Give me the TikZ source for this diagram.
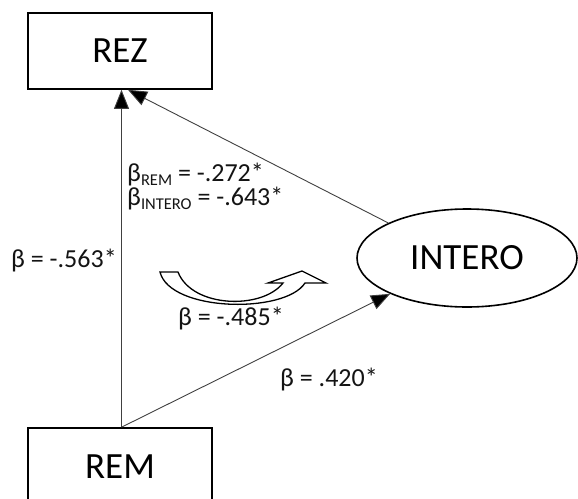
\documentclass[tikz,border=0pt]{standalone}
\usepackage{fontspec}
\setmainfont{Carlito}
\usetikzlibrary{arrows.meta,shapes.geometric}
\newcommand{\betasub}[1]{β\raisebox{-4.5pt}{\fontsize{16.5}{16.5}\selectfont #1}}
\begin{document}
\begin{tikzpicture}[x=1pt,y=-1pt,
  varbox/.style={draw=black,line width=1.6pt,fill=white,minimum width=184pt,
    inner sep=0pt,font=\fontsize{37}{37}\selectfont},
  latentvar/.style={ellipse,draw=black,line width=1.6pt,fill=white,inner sep=0pt,
    minimum width=220pt,minimum height=98pt,font=\fontsize{37}{37}\selectfont},
  regpath/.style={draw=black!75,line width=0.9pt,
    -{Triangle[length=19pt,width=15pt,fill=black]}},
  coef/.style={inner sep=0pt,text=black!92,font=\fontsize{26}{26}\selectfont},
  effectarrow/.style={draw=black,line width=1.3pt,fill=white,line join=miter}
]
\useasboundingbox (0,0) rectangle (578,498);
\clip (0,0) rectangle (578,498);

% variables
\node[varbox,minimum height=76pt] (REZ) at (120,51) {REZ};
\node[varbox,minimum height=78pt] (REM) at (120,467) {REM};
\node[latentvar] (INTERO) at (467,258) {INTERO};

% paths
\draw[regpath] ([xshift=1.5pt]REM.north) -- ([xshift=1.5pt]REZ.south);
\draw[regpath] ([xshift=1.5pt]REM.north) -- (INTERO.205.7);
\draw[regpath] (INTERO.156) -- ([xshift=8pt]REZ.south);

% curved arrow marking the indirect effect
\draw[effectarrow] (160,272) -- (178,272)
  .. controls (192,308) and (262,310) .. (283,283)
  -- (268,283) -- (302,271) -- (326,283) -- (305,283)
  .. controls (285,314) and (170,312) .. (160,272) -- cycle;

% coefficients
\node[coef,anchor=base west] (c1) at (11,267) {β = -.563*};
\node[coef,anchor=base west] (c2) at (127,181) {\betasub{REM} = -.272*};
\node[coef,anchor=base west] (c3) at (127,205) {\betasub{INTERO} = -.643*};
\node[coef,anchor=base west] (c4) at (178,325) {β = -.485*};
\node[coef,anchor=base west] (c5) at (280,386) {β = .420*};
\end{tikzpicture}
\end{document}
